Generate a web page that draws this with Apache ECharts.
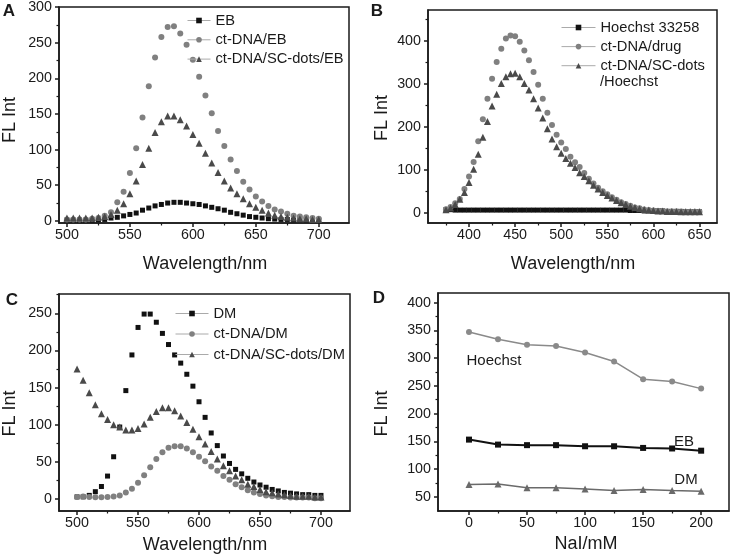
<!DOCTYPE html>
<html>
<head>
<meta charset="utf-8">
<script src="https://cdn.jsdelivr.net/npm/echarts@6/dist/echarts.min.js"></script>
<style>
  html, body { margin: 0; padding: 0; background: #fff; }
  #main { width: 733px; height: 560px; }
</style>
</head>
<body>
<div id="main"></div>
<script>
// wavelengths (nm)
var wlAC = [500,505,510,515,520,525,530,535,540,545,550,555,560,565,570,575,580,585,590,595,
            600,605,610,615,620,625,630,635,640,645,650,655,660,665,670,675,680,685,690,695,700];
var wlB = [375,380,385,390,395,400,405,410,415,420,425,430,435,440,445,450,455,460,465,470,
           475,480,485,490,495,500,505,510,515,520,525,530,535,540,545,550,555,560,565,570,
           575,580,585,590,595,600,605,610,615,620,625,630,635,640,645,650];
var naI = [0,25,50,75,100,125,150,175,200];

// A
var ebA = [1,1,1,1,1,1.5,2,4,5,7,9,11,15,18,21,23,25,26,26,25,
           24,23,21,19,17,15,12,10,8,6,5,4,3,2.5,2,2,1.5,1.5,1,1,1];
var dnaEbA = [2,2,2,2,3,4,7,12,26,41,67,102,145,189,229,258,272,273,263,247,
              226,202,176,151,126,105,86,70,55,44,34,27,21,16,13,10,7,6,5,4,3];
var scEbA = [4,4,4,4,4,5,6,9,15,24,38,56,79,102,124,139,147,147,142,133,
             121,109,95,81,68,56,46,38,31,24,19,15,11,8,6,5,4,3,3,2,2];

// B
var hoeB = [8,8,7,7,7,7,7,7,7,7,7,7,7,7,7,7,7,7,7,7,
            7,7,7,7,7,7,7,7,7,7,7,7,7,7,7,7,7,7,7,7,
            6,6,6,5,5,5,5,5,4,4,4,4,3,3,3,3];
var dnaB = [9,14,23,33,56,85,119,167,218,266,312,351,382,406,413,411,398,378,355,328,
            298,266,233,205,182,164,149,131,118,107,93,80,69,59,51,44,37,31,25,21,
            17,13,11,8.5,7,6,5,5,4,4,4,3,3,3,3,3];
var scB = [8,12,20,32,48,71,102,137,176,213,249,276,301,317,324,325,317,301,286,266,
           244,221,196,172,154,139,127,116,106,94,85,75,65,56,48,41,35,29,24,20,
           16,13,10,8.5,7,6,5,5,4,4,4,3,3,3,3,3];

// C
var dmC = [3,3,5,10,17,31,57,97,146,194,231,249,249,238,223,208,194,183,168,152,
           131,110,89,72,58,48,40,34,28,23,19,16,13,11,9,8,7,6,6,5,5];
var dnaDmC = [3,3.5,3,2.5,2.5,3,3.5,5,9,14,22,32,43,54,63,69,71,71,68,63,
              57,51,44,38,31,26,20,16,12,9,7,5,4,3,3,2,2,2,2,1,1];
var scDmC = [175,160,143,127,115,107,100,97,93,93,95,101,110,118,123,123,119,112,103,94,
             84,74,64,54,45,38,31,26,20,17,13,10,8.5,7,6,5,4,4,4,3,3];

// D
var hoeD = [347,334,324,322,310,294,262,258,245];
var ebD = [153,144,143,143,141,141,138,137,133];
var dmD = [72,73,66,66,64,61,63,61,60];

// tick values
var wlTicks = [500,550,600,650,700], wlMinor = [525,575,625,675];
var wlBTicks = [400,450,500,550,600,650], wlBMinor = [375,425,475,525,575,625];
var naTicks = [0,50,100,150,200], naMinor = [25,75,125,175];
var yATicks = [0,50,100,150,200,250,300], yAMinor = [25,75,125,175,225,275];
var yBTicks = [0,100,200,300,400], yBMinor = [50,150,250,350,450];
var yCTicks = [0,50,100,150,200,250], yCMinor = [25,75,125,175,225,275];
var yDTicks = [50,100,150,200,250,300,350,400], yDMinor = [75,125,175,225,275,325,375];

var ink = '#1a1a1a';
var fontFam = '"Liberation Sans", Arial, sans-serif';
var cSq = '#111111', cCi = '#808080', cTr = '#4a4a4a';

function pts(xs, ys) {
  return xs.map(function (x, i) { return [x, ys[i]]; });
}

// major axis + minor-tick axis for one side of a grid
function axes(grid, min, max, major, minor, pos) {
  return [{
    type: 'value', gridIndex: grid, min: min, max: max, position: pos,
    splitLine: { show: false },
    axisLine: { show: true, onZero: false, lineStyle: { color: ink, width: 1.5 } },
    axisTick: { show: true, length: 4, customValues: major, lineStyle: { color: ink, width: 1.5 } },
    axisLabel: { customValues: major, fontSize: 14.3, color: ink, fontFamily: fontFam, margin: pos === 'left' ? 7 : 5 }
  }, {
    type: 'value', gridIndex: grid, min: min, max: max, position: pos,
    splitLine: { show: false },
    axisLine: { show: false, onZero: false },
    axisTick: { show: true, length: 2.5, customValues: minor, lineStyle: { color: ink, width: 1.2 } },
    axisLabel: { show: false }
  }];
}

function dots(name, p, data, symbol, color, size) {
  return {
    name: name, type: 'line', xAxisIndex: 2 * p, yAxisIndex: 2 * p,
    data: data, symbol: symbol, symbolSize: size, showSymbol: true, showAllSymbol: true,
    itemStyle: { color: color }, lineStyle: { opacity: 0, color: color }, silent: true
  };
}

function lineSer(name, data, symbol, color, size, width) {
  return {
    name: name, type: 'line', xAxisIndex: 6, yAxisIndex: 6,
    data: data, symbol: symbol, symbolSize: size, showAllSymbol: true,
    itemStyle: { color: color }, lineStyle: { color: color, width: width }, silent: true
  };
}

function legend(names, left, top, width, gap) {
  return {
    data: names, orient: 'vertical', left: left, top: top, padding: 0,
    itemWidth: width, itemHeight: 7, itemGap: gap, selectedMode: false,
    textStyle: { fontSize: 14.7, color: ink, fontFamily: fontFam },
    lineStyle: { color: '#aaaaaa', width: 1, opacity: 1 },
    formatter: function (n) { return n === 'ct-DNA/SC-dots/Hoechst' ? 'ct-DNA/SC-dots' : n; }
  };
}

function txt(t, x, y, size, opts) {
  opts = opts || {};
  return {
    type: 'text', x: x, y: y, rotation: opts.rot || 0, silent: true,
    style: {
      text: t, fill: ink, fontSize: size, fontFamily: fontFam, fontWeight: opts.bold ? 'bold' : 'normal',
      align: opts.align || 'center', verticalAlign: 'middle',
      textAlign: opts.align || 'center', textVerticalAlign: 'middle'
    }
  };
}

var gridStyle = { show: true, borderColor: ink, borderWidth: 1.5 };

var xAxes = [].concat(
  axes(0, 493.7, 724, wlTicks, wlMinor, 'bottom'),
  axes(1, 355.5, 669, wlBTicks, wlBMinor, 'bottom'),
  axes(2, 485.2, 723.8, wlTicks, wlMinor, 'bottom'),
  axes(3, -26.7, 224, naTicks, naMinor, 'bottom')
);
var yAxes = [].concat(
  axes(0, -3, 300, yATicks, yAMinor, 'left'),
  axes(1, -23, 472, yBTicks, yBMinor, 'left'),
  axes(2, -16, 276, yCTicks, yCMinor, 'left'),
  axes(3, 24.2, 417.5, yDTicks, yDMinor, 'left')
);

var option = {
  animation: false,
  backgroundColor: '#fff',
  grid: [
    Object.assign({ left: 59, top: 7, width: 290, height: 216 }, gridStyle),
    Object.assign({ left: 428, top: 10, width: 289, height: 213 }, gridStyle),
    Object.assign({ left: 59, top: 294, width: 291, height: 217 }, gridStyle),
    Object.assign({ left: 438, top: 293, width: 291, height: 218 }, gridStyle)
  ],
  xAxis: xAxes,
  yAxis: yAxes,
  legend: [
    legend(['EB', 'ct-DNA/EB', 'ct-DNA/SC-dots/EB'], 187, 13, 23, 4.3),
    legend(['Hoechst 33258', 'ct-DNA/drug', 'ct-DNA/SC-dots/Hoechst'], 561, 20, 34, 4.1),
    legend(['DM', 'ct-DNA/DM', 'ct-DNA/SC-dots/DM'], 175, 306, 33, 5.5)
  ],
  series: [
    dots('EB', 0, pts(wlAC, ebA), 'rect', cSq, 5),
    dots('ct-DNA/EB', 0, pts(wlAC, dnaEbA), 'circle', cCi, 6),
    dots('ct-DNA/SC-dots/EB', 0, pts(wlAC, scEbA), 'triangle', cTr, 7),

    dots('Hoechst 33258', 1, pts(wlB, hoeB), 'rect', cSq, 5),
    dots('ct-DNA/drug', 1, pts(wlB, dnaB), 'circle', cCi, 6),
    dots('ct-DNA/SC-dots/Hoechst', 1, pts(wlB, scB), 'triangle', cTr, 7),

    dots('DM', 2, pts(wlAC, dmC), 'rect', cSq, 5),
    dots('ct-DNA/DM', 2, pts(wlAC, dnaDmC), 'circle', cCi, 6),
    dots('ct-DNA/SC-dots/DM', 2, pts(wlAC, scDmC), 'triangle', cTr, 7),

    lineSer('Hoechst', pts(naI, hoeD), 'circle', '#8a8a8a', 6, 1.5),
    lineSer('EB ', pts(naI, ebD), 'rect', '#111111', 6, 2),
    lineSer('DM ', pts(naI, dmD), 'triangle', '#6a6a6a', 7, 1.5)
  ],
  graphic: [
    txt('A', 9, 11, 17, { bold: true }),
    txt('B', 377, 11, 17, { bold: true }),
    txt('C', 12, 300, 17, { bold: true }),
    txt('D', 379, 298, 17, { bold: true }),

    txt('FL Int', 10, 120, 18, { rot: Math.PI / 2 }),
    txt('FL Int', 382.5, 118, 18, { rot: Math.PI / 2 }),
    txt('FL Int', 10, 413.5, 18, { rot: Math.PI / 2 }),
    txt('FL Int', 382.5, 413.5, 18, { rot: Math.PI / 2 }),

    txt('Wavelength/nm', 205, 264, 18),
    txt('Wavelength/nm', 573, 264, 18),
    txt('Wavelength/nm', 205, 545, 18),
    txt('NaI/mM', 586, 544, 18),

    txt('/Hoechst', 600, 82, 14.7, { align: 'left' }),

    txt('Hoechst', 494, 361, 15),
    txt('EB', 684, 442, 15),
    txt('DM', 686, 480, 15)
  ]
};

var chart = echarts.init(document.getElementById('main'));
chart.setOption(option);
</script>
</body>
</html>
